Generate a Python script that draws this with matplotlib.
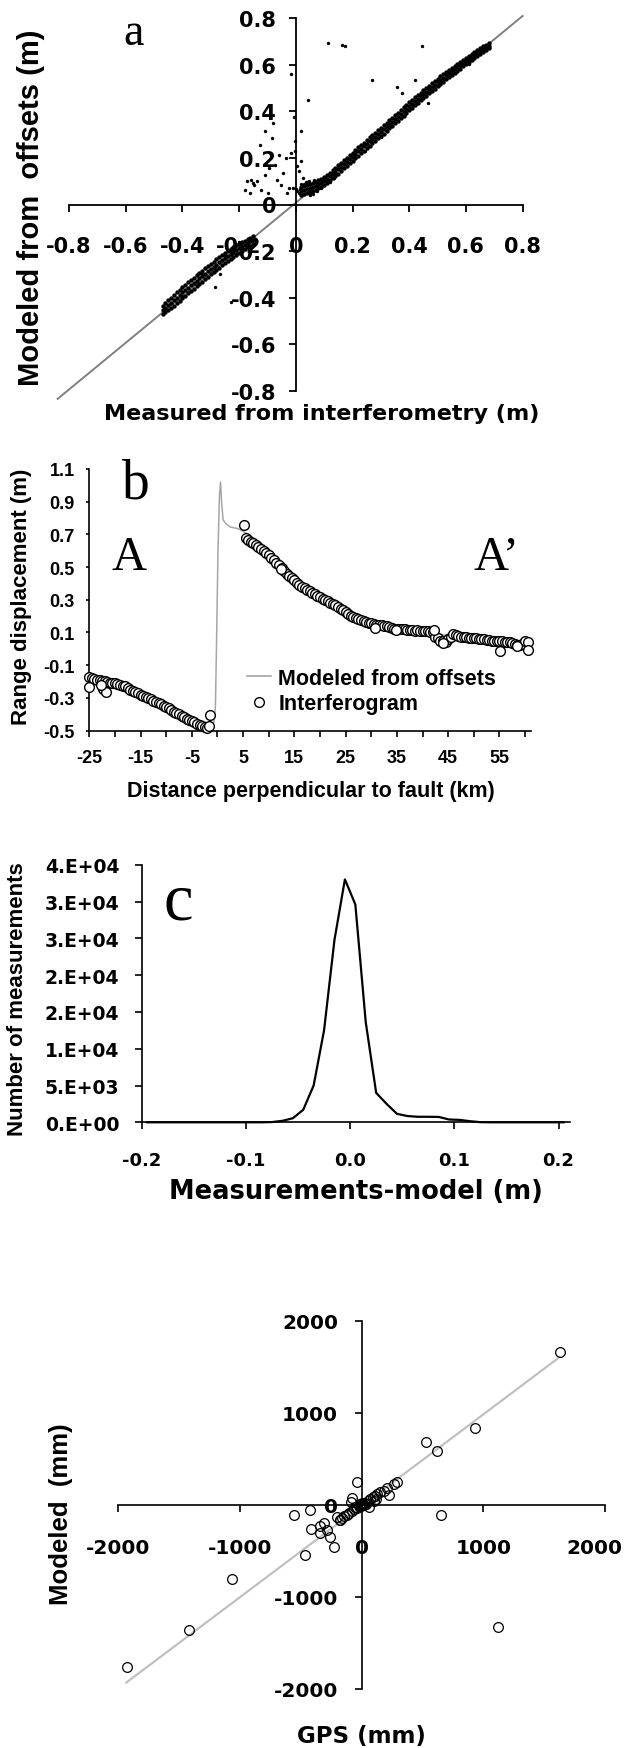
import matplotlib
matplotlib.use("Agg")
import matplotlib.pyplot as plt
import matplotlib.transforms as mtransforms
from matplotlib.lines import Line2D

plt.rcParams['axes.unicode_minus'] = False
plt.rcParams['font.family'] = 'DejaVu Sans'
plt.rcParams['font.weight'] = 'bold'

# ---------------- data ----------------
# panel a : modeled (offsets) vs measured (interferometry), metres
a_ticks = [-0.8, -0.6, -0.4, -0.2, 0, 0.2, 0.4, 0.6, 0.8]
a_tick_labels = ['-0.8', '-0.6', '-0.4', '-0.2', '0', '0.2', '0.4', '0.6', '0.8']
a_fit_x = [-0.84, 0.80]
a_fit_y = [-0.835, 0.81]

pos_x = [0.02, 0.03, 0.04, 0.05, 0.06, 0.07, 0.08, 0.09, 0.10, 0.11, 0.12, 0.13,
         0.14, 0.15, 0.16, 0.17, 0.18, 0.19, 0.20, 0.21, 0.22, 0.23, 0.24, 0.25,
         0.26, 0.27, 0.28, 0.29, 0.30, 0.31, 0.32, 0.33, 0.34, 0.35, 0.36, 0.37,
         0.38, 0.39, 0.40, 0.41, 0.42, 0.43, 0.44, 0.45, 0.46, 0.47, 0.48, 0.49,
         0.50, 0.51, 0.52, 0.53, 0.54, 0.55, 0.56, 0.57, 0.58, 0.59, 0.60, 0.61,
         0.62, 0.63, 0.64, 0.65, 0.66, 0.67, 0.68]
pos_mid = [0.058, 0.062, 0.066, 0.071, 0.076, 0.081, 0.087, 0.094, 0.102, 0.111, 0.121, 0.131,
           0.141, 0.151, 0.162, 0.173, 0.184, 0.195, 0.206, 0.217, 0.228, 0.239, 0.250, 0.261,
           0.271, 0.282, 0.292, 0.302, 0.312, 0.323, 0.334, 0.345, 0.356, 0.367, 0.378, 0.389,
           0.400, 0.411, 0.422, 0.433, 0.444, 0.455, 0.465, 0.475, 0.485, 0.495, 0.505, 0.515,
           0.525, 0.535, 0.545, 0.555, 0.564, 0.573, 0.582, 0.591, 0.600, 0.609, 0.618, 0.627,
           0.635, 0.643, 0.651, 0.659, 0.667, 0.675, 0.683]
pos_lo = [0.042, 0.046, 0.050, 0.054, 0.060, 0.064, 0.070, 0.077, 0.085, 0.094, 0.104, 0.113,
          0.124, 0.133, 0.145, 0.155, 0.166, 0.177, 0.188, 0.199, 0.210, 0.221, 0.232, 0.243,
          0.253, 0.264, 0.274, 0.284, 0.295, 0.305, 0.316, 0.327, 0.338, 0.349, 0.360, 0.371,
          0.382, 0.393, 0.404, 0.415, 0.426, 0.437, 0.447, 0.457, 0.467, 0.478, 0.488, 0.498,
          0.508, 0.518, 0.528, 0.538, 0.547, 0.556, 0.566, 0.575, 0.584, 0.593, 0.602, 0.611,
          0.620, 0.628, 0.637, 0.646, 0.655, 0.664, 0.673]
pos_hi = [0.075, 0.080, 0.084, 0.088, 0.093, 0.098, 0.104, 0.110, 0.118, 0.127, 0.137, 0.147,
          0.158, 0.168, 0.178, 0.190, 0.200, 0.212, 0.223, 0.234, 0.245, 0.256, 0.266, 0.278,
          0.288, 0.298, 0.309, 0.319, 0.330, 0.340, 0.351, 0.362, 0.373, 0.384, 0.395, 0.406,
          0.417, 0.428, 0.439, 0.450, 0.460, 0.471, 0.481, 0.491, 0.501, 0.511, 0.521, 0.531,
          0.540, 0.550, 0.560, 0.569, 0.578, 0.587, 0.596, 0.605, 0.613, 0.622, 0.630, 0.639,
          0.647, 0.655, 0.663, 0.671, 0.679, 0.686, 0.693]

neg_x = [-0.47, -0.46, -0.45, -0.44, -0.43, -0.42, -0.41, -0.40, -0.39, -0.38, -0.37,
         -0.36, -0.35, -0.34, -0.33, -0.32, -0.31, -0.30, -0.29, -0.28, -0.27, -0.26,
         -0.25, -0.24, -0.23, -0.22, -0.21, -0.20, -0.19, -0.18, -0.17, -0.16, -0.15]
neg_mid = [-0.455, -0.445, -0.433, -0.422, -0.411, -0.400, -0.389, -0.378, -0.368, -0.357, -0.347,
           -0.337, -0.327, -0.317, -0.307, -0.297, -0.287, -0.277, -0.267, -0.258, -0.249, -0.239,
           -0.230, -0.221, -0.212, -0.204, -0.195, -0.188, -0.180, -0.173, -0.165, -0.158, -0.152]
neg_lo = [-0.470, -0.462, -0.455, -0.444, -0.434, -0.424, -0.413, -0.402, -0.392, -0.381, -0.371,
          -0.361, -0.351, -0.341, -0.331, -0.321, -0.311, -0.300, -0.290, -0.281, -0.271, -0.262,
          -0.252, -0.243, -0.234, -0.225, -0.216, -0.208, -0.200, -0.192, -0.184, -0.177, -0.170]
neg_hi = [-0.438, -0.425, -0.412, -0.400, -0.389, -0.377, -0.367, -0.356, -0.345, -0.335, -0.324,
          -0.314, -0.304, -0.294, -0.284, -0.274, -0.264, -0.255, -0.245, -0.236, -0.227, -0.218,
          -0.209, -0.200, -0.192, -0.184, -0.176, -0.169, -0.162, -0.155, -0.148, -0.142, -0.136]

a_out_x = [0.115, 0.162, 0.174, 0.444, 0.270, 0.421, 0.356, 0.376, -0.017, 0.044, -0.006, 0.018,
           -0.081, -0.109, -0.084, -0.003, -0.003, -0.017, 0.018, 0.011, -0.173, -0.159, -0.152,
           -0.138, -0.163, -0.124, -0.109, -0.095, -0.074, -0.067, -0.053, -0.045, -0.031, -0.024,
           -0.036, -0.060, -0.126, -0.149, -0.178, -0.098, 0.004, 0.026, 0.466, 0.416, -0.284,
           -0.230, -0.268, 0.010, 0.015, 0.005, 0.030, 0.040, 0.085, 0.100, 0.110, -0.010, 0.000,
           0.060, 0.075, 0.035, 0.050, 0.120, 0.135, 0.300, 0.245, 0.520, 0.610, -0.330, -0.400,
           -0.200, -0.250, 0.065, 0.090, 0.020, 0.045]
a_out_y = [0.692, 0.686, 0.679, 0.679, 0.537, 0.537, 0.503, 0.477, 0.562, 0.447, 0.377, 0.316,
           0.349, 0.316, 0.285, 0.273, 0.228, 0.221, 0.185, 0.142, 0.100, 0.107, 0.093,
           0.100, 0.050, 0.064, 0.128, 0.157, 0.171, 0.107, 0.085, 0.135, 0.050, 0.071,
           0.199, 0.214, 0.256, 0.083, 0.064, 0.050, 0.164, 0.114, 0.434, 0.427, -0.356,
           -0.420, -0.299, 0.050, 0.065, 0.060, 0.090, 0.095, 0.075, 0.085, 0.095, 0.070, 0.065,
           0.045, 0.060, 0.098, 0.040, 0.098, 0.112, 0.290, 0.232, 0.525, 0.603, -0.300, -0.395,
           -0.160, -0.215, 0.105, 0.070, 0.090, 0.100]

# panel b : profile A-A'
b_xticks = [-25, -20, -15, -10, -5, 0, 5, 10, 15, 20, 25, 30, 35, 40, 45, 50, 55, 60]
b_xlabels = ['-25', '', '-15', '', '-5', '', '5', '', '15', '', '25', '', '35', '', '45', '', '55', '']
b_yticks = [-0.5, -0.3, -0.1, 0.1, 0.3, 0.5, 0.7, 0.9, 1.1]
b_ylabels = ['-0.5', '-0.3', '-0.1', '0.1', '0.3', '0.5', '0.7', '0.9', '1.1']

model_x = [-25, -20, -17, -13, -9, -5, -3, -1.5, -0.7, -0.4, -0.2, 0.1, 0.4, 0.6, 0.8, 1.1, 1.5,
           2.5, 4, 5.5, 8, 11, 14, 17, 20, 23, 26, 29, 32, 36, 40, 44, 48, 52, 56, 60]
model_y = [-0.18, -0.213, -0.25, -0.31, -0.375, -0.442, -0.472, -0.48, -0.45, -0.35, 0.0, 0.6,
           0.95, 1.02, 0.9, 0.79, 0.77, 0.745, 0.735, 0.71, 0.62, 0.54, 0.445, 0.365, 0.31,
           0.265, 0.2, 0.165, 0.145, 0.12, 0.11, 0.085, 0.075, 0.06, 0.045, 0.04]

ifg_left_x = [-25, -24.5, -24, -23.5, -23, -22.5, -22, -21.5, -21, -20.5, -20, -19.5, -19, -18.5,
              -18, -17.5, -17, -16.5, -16, -15.5, -15, -14.5, -14, -13.5, -13, -12.5, -12, -11.5,
              -11, -10.5, -10, -9.5, -9, -8.5, -8, -7.5, -7, -6.5, -6, -5.5, -5, -4.5, -4, -3.5,
              -3, -2.5, -2, -25, -22.3, -21.8, -22.8, -1.5, -1.7]
ifg_left_y = [-0.175, -0.18, -0.185, -0.19, -0.19, -0.195, -0.2, -0.205, -0.21, -0.21, -0.212,
              -0.215, -0.22, -0.225, -0.23, -0.24, -0.25, -0.258, -0.265, -0.272, -0.28, -0.288,
              -0.295, -0.302, -0.31, -0.318, -0.325, -0.333, -0.34, -0.348, -0.357, -0.365,
              -0.375, -0.385, -0.393, -0.402, -0.41, -0.418, -0.427, -0.435, -0.442, -0.45,
              -0.458, -0.465, -0.472, -0.478, -0.482, -0.235, -0.245, -0.265, -0.22, -0.405, -0.47]

ifg_right_x = [5.5, 6, 6.5, 7, 7.5, 8, 8.5, 9, 9.5, 10, 10.5, 11, 11.5, 12, 12.5, 13, 13.5, 14,
               14.5, 15, 15.5, 16, 16.5, 17, 17.5, 18, 18.5, 19, 19.5, 20, 20.5, 21, 21.5, 22,
               22.5, 23, 23.5, 24, 24.5, 25, 25.5, 26, 26.5, 27, 27.5, 28, 28.5, 29, 29.5, 30,
               30.5, 31, 31.5, 32, 32.5, 33, 33.5, 34, 34.5, 35, 35.5, 36, 36.5, 37, 37.5, 38,
               38.5, 39, 39.5, 40, 40.5, 41, 41.5, 42, 42.5, 43, 43.5, 44, 44.5, 45, 45.5, 46,
               46.5, 47, 47.5, 48, 48.5, 49, 49.5, 50, 50.5, 51, 51.5, 52, 52.5, 53, 53.5, 54,
               54.5, 55, 55.5, 56, 56.5, 57, 57.5, 58, 58.5, 59, 59.5, 60, 60.5,
               5.2, 12.3, 30.8, 34.8, 44.0, 55.1, 58.5, 60.5, 42.3]
ifg_right_y = [0.68, 0.668, 0.655, 0.645, 0.632, 0.62, 0.608, 0.597, 0.585, 0.572, 0.558, 0.543,
               0.527, 0.512, 0.497, 0.478, 0.46, 0.445, 0.432, 0.418, 0.405, 0.392, 0.38, 0.37,
               0.362, 0.353, 0.343, 0.333, 0.325, 0.316, 0.307, 0.298, 0.29, 0.282, 0.275, 0.267,
               0.258, 0.245, 0.236, 0.225, 0.212, 0.203, 0.195, 0.188, 0.18, 0.174, 0.168, 0.164,
               0.16, 0.155, 0.15, 0.148, 0.146, 0.144, 0.142, 0.138, 0.133, 0.128, 0.124, 0.12,
               0.12, 0.118, 0.118, 0.115, 0.117, 0.113, 0.11, 0.112, 0.11, 0.108, 0.11, 0.106,
               0.105, 0.1, 0.075, 0.065, 0.05, 0.045, 0.04, 0.06, 0.075, 0.09, 0.085, 0.078,
               0.075, 0.072, 0.07, 0.068, 0.067, 0.065, 0.064, 0.062, 0.06, 0.058, 0.055, 0.053,
               0.05, 0.048, 0.046, 0.045, 0.045, 0.042, 0.04, 0.04, 0.038, 0.03, 0.022, 0.025,
               0.03, 0.045, 0.04,
               0.76, 0.49, 0.128, 0.115, 0.035, -0.012, 0.015, -0.005, 0.112]

# panel c : histogram of residuals
c_bins = [-0.195, -0.185, -0.175, -0.165, -0.155, -0.145, -0.135, -0.125, -0.115, -0.105,
          -0.095, -0.085, -0.075, -0.065, -0.055, -0.045, -0.035, -0.025, -0.015, -0.005,
          0.005, 0.015, 0.025, 0.035, 0.045, 0.055, 0.065, 0.075, 0.085, 0.095, 0.105,
          0.115, 0.125, 0.135, 0.145, 0.155, 0.165, 0.175, 0.185, 0.195, 0.205]
c_counts = [0, 0, 0, 0, 0, 0, 0, 0, 0, 0,
            0, 0, 30, 200, 550, 1700, 5000, 12500, 24800, 33000,
            29600, 13600, 4000, 2500, 1150, 850, 750, 750, 730, 380, 330,
            150, 20, 0, 0, 0, 0, 0, 0, 0, 0]
c_xticks = [-0.2, -0.1, 0.0, 0.1, 0.2]
c_xlabels = ['-0.2', '-0.1', '0.0', '0.1', '0.2']
c_yticks = [0, 5000, 10000, 15000, 20000, 25000, 30000, 35000]
c_ylabels = ['0.E+00', '5.E+03', '1.E+04', '2.E+04', '2.E+04', '3.E+04', '3.E+04', '4.E+04']

# panel d : GPS vs modeled, mm
d_ticks = [-2000, -1000, 0, 1000, 2000]
d_tick_labels = ['-2000', '-1000', '0', '1000', '2000']
d_fit_x = [-1930, 1620]
d_fit_y = [-1930, 1600]
gps_x = [1628, 927, 528, 621, -39, 289, 266, 206, 222, 182, 150, 130, 110, 90, 70, 50, 30, 10, 0,
         -20, -40, -60, -80, -100, -120, -140, -160, -180, -76, -90, 60, 100, 120, 648, -425,
         -558, -201, -178, -308, -341, -414, -281, -258, -341, -225, -468, -1062, -1414, -1926,
         1120, 20, -10, 40, -50, 5, -5]
gps_y = [1665, 840, 688, 586, 246, 252, 227, 181, 109, 155, 140, 120, 100, 80, 60, 40, 20, 10, 0,
         -10, -30, -50, -70, -90, -110, -120, -140, -160, 72, 30, -20, 40, 60, -109, -54,
         -109, -127, -163, -199, -235, -264, -271, -344, -308, -453, -550, -807, -1364, -1762,
         -1332, 0, 5, 10, -20, 15, -15]

# ---------------- figure ----------------
W, H = 627, 1749
fig = plt.figure(figsize=(W / 100, H / 100), dpi=100)


def box(left, top, right, bottom):
    # axes placed by pixel edges measured on the reference
    return fig.add_axes([left / W, 1 - bottom / H, (right - left) / W, (bottom - top) / H])


def put(x, y, s, **kw):
    fig.text(x / W, 1 - y / H, s, **kw)


LIB = 'Liberation Sans'
SERIF = 'Liberation Serif'

# ---- panel a ----
ax = box(69, 19.3, 522.6, 391.7)
ax.patch.set_alpha(0)
ax.set_xlim(-0.8, 0.8)
ax.set_ylim(-0.8, 0.8)
for s in ['top', 'right']:
    ax.spines[s].set_visible(False)
ax.spines['left'].set_position(('data', 0))
ax.spines['bottom'].set_position(('data', 0))
for s in ['left', 'bottom']:
    ax.spines[s].set_linewidth(1.3)
ax.set_xticks(a_ticks, a_tick_labels)
ax.set_yticks(a_ticks, a_tick_labels)
ax.tick_params(axis='x', direction='out', length=5, width=1.3, labelsize=15, pad=18)
ax.tick_params(axis='y', direction='out', length=5, width=1.3, labelsize=15, pad=9)
ax.plot(a_fit_x, a_fit_y, color='#808080', lw=1.4, clip_on=False, zorder=2)
for yy in (pos_lo, pos_mid, pos_hi):
    ax.scatter(pos_x, yy, s=10, color='black', linewidths=0, zorder=3)
for yy in (neg_lo, neg_mid, neg_hi):
    ax.scatter(neg_x, yy, s=10, color='black', linewidths=0, zorder=3)
ax.scatter(a_out_x, a_out_y, s=6, color='black', linewidths=0, zorder=3)
put(123.5, 45, 'a', family=SERIF, fontweight='normal', fontsize=33, va='baseline', ha='left')
put(322, 414, 'Measured from interferometry (m)', fontsize=16, ha='center', va='center')
put(31, 208, 'Modeled from  offsets (m)', family=LIB, fontsize=21, rotation=90,
    ha='center', va='center')

# ---- panel b ----
bx = box(89.3, 470, 530.7, 731.5)
bx.patch.set_alpha(0)
bx.set_xlim(-25, 61.1)
bx.set_ylim(-0.5, 1.1)
for s in ['top', 'right']:
    bx.spines[s].set_visible(False)
for s in ['left', 'bottom']:
    bx.spines[s].set_linewidth(1.2)
bx.set_xticks(b_xticks, b_xlabels, family=LIB)
bx.set_yticks(b_yticks, b_ylabels, family=LIB)
bx.tick_params(axis='x', direction='out', length=4.5, width=1.2, labelsize=13, pad=9)
bx.tick_params(axis='y', direction='out', length=2.5, width=1.2, labelsize=13, pad=8)
bx.plot(model_x, model_y, color='#a6a6a6', lw=1.1, zorder=2)
for xs, ys in ((ifg_left_x, ifg_left_y), (ifg_right_x, ifg_right_y)):
    bx.plot(xs, ys, ls='none', marker='o', ms=7, mfc='white', mec='black',
            mew=1.0, zorder=3, clip_on=False)
handles = [Line2D([], [], color='#a6a6a6', lw=1.2),
           Line2D([], [], ls='none', marker='o', ms=7, mfc='white', mec='black', mew=1.0)]
fig.legend(handles, ['Modeled from offsets', 'Interferogram'], loc='upper left',
           bbox_to_anchor=(247 / W, 1 - 669 / H), frameon=False,
           prop={'family': LIB, 'weight': 'bold', 'size': 15.5},
           handlelength=1.1, handletextpad=0.35, labelspacing=0.2, borderpad=0, borderaxespad=0)
put(121.7, 498.3, 'b', family=SERIF, fontweight='normal', fontsize=40, va='baseline', ha='left')
put(112, 570, 'A', family=SERIF, fontweight='normal', fontsize=35, va='baseline', ha='left')
put(473.7, 570, 'A\u2019', family=SERIF, fontweight='normal', fontsize=35, va='baseline', ha='left')
put(311, 792, 'Distance perpendicular to fault (km)', family=LIB, fontsize=15.5,
    ha='center', va='center')
put(22, 597, 'Range displacement (m)', family=LIB, fontsize=16, rotation=90,
    ha='center', va='center')

# ---- panel c ----
cx = box(141.7, 865.7, 570, 1123.3)
cx.patch.set_alpha(0)
cx.set_xlim(-0.2, 0.211)
cx.set_ylim(0, 35000)
for s in ['top', 'right']:
    cx.spines[s].set_visible(False)
for s in ['left', 'bottom']:
    cx.spines[s].set_linewidth(1.2)
cx.set_xticks(c_xticks, c_xlabels)
cx.set_yticks(c_yticks, c_ylabels)
cx.tick_params(axis='x', direction='out', length=5, width=1.2, labelsize=13, pad=16)
cx.tick_params(axis='y', direction='out', length=5, width=1.2, labelsize=13.5, pad=11)
cx.plot(c_bins, c_counts, color='black', lw=1.6, clip_on=False)
put(163, 920, 'c', family=SERIF, fontweight='normal', fontsize=48, va='baseline', ha='left')
put(356, 1192, 'Measurements-model (m)', fontsize=18.5, ha='center', va='center')
put(18, 999, 'Number of measurements', family=LIB, fontsize=16, rotation=90,
    ha='center', va='center')

# ---- panel d ----
dx = box(117.8, 1321.7, 605.3, 1690)
dx.patch.set_alpha(0)
dx.set_xlim(-2000, 2000)
dx.set_ylim(-2000, 2000)
for s in ['top', 'right']:
    dx.spines[s].set_visible(False)
dx.spines['left'].set_position(('data', 0))
dx.spines['bottom'].set_position(('data', 0))
for s in ['left', 'bottom']:
    dx.spines[s].set_linewidth(1.2)
dx.set_xticks(d_ticks, d_tick_labels)
dx.set_yticks(d_ticks, d_tick_labels)
dx.tick_params(axis='x', direction='out', length=5, width=1.2, labelsize=14.5, pad=19)
dx.tick_params(axis='y', direction='out', length=5, width=1.2, labelsize=14.5, pad=12)
# the reference's last label touches the right edge; nudge it inside the canvas
last = dx.get_xticklabels()[-1]
last.set_transform(last.get_transform() +
                   mtransforms.ScaledTranslation(-8 / 72, 0, fig.dpi_scale_trans))
dx.plot(d_fit_x, d_fit_y, color='#c0c0c0', lw=1.6, zorder=2)
dx.plot(gps_x, gps_y, ls='none', marker='o', ms=7, mfc='none', mec='black', mew=0.9, zorder=3)
put(361, 1737, 'GPS (mm)', fontsize=16.5, ha='center', va='center')
put(61, 1514, 'Modeled  (mm)', family=LIB, fontsize=18.5, rotation=90, ha='center', va='center')

fig.savefig('out.png', dpi=100)
